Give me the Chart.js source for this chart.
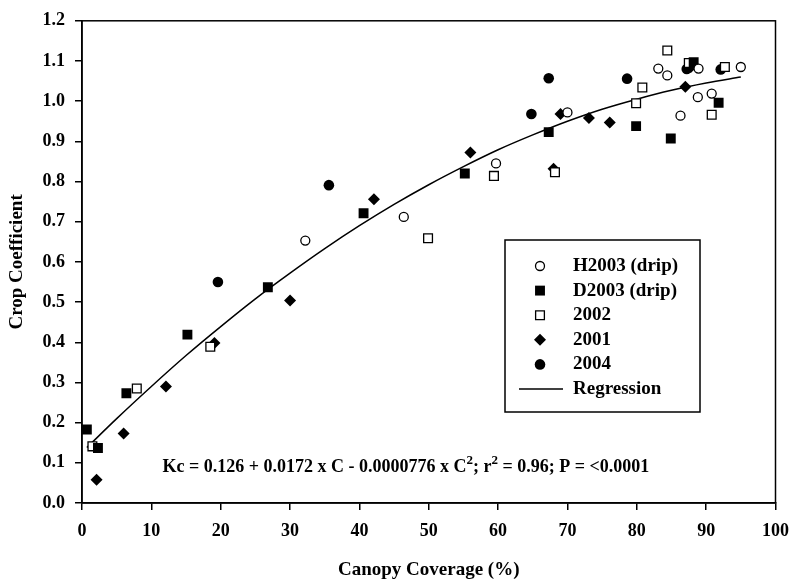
<!DOCTYPE html>
<html>
<head>
<meta charset="utf-8">
<script src="https://cdn.jsdelivr.net/npm/chart.js@4"></script>
<style>
  html, body { margin: 0; padding: 0; background: #fff; }
</style>
</head>
<body>
<canvas id="chart" width="800" height="583"></canvas>
<script>
// values: [canopy coverage %, Kc]
const h2003 = [[32.2, 0.653], [46.4, 0.712], [59.7, 0.845], [70.0, 0.972], [83.1, 1.081], [84.4, 1.064],
  [86.3, 0.964], [88.9, 1.081], [88.8, 1.010], [90.8, 1.019], [95.0, 1.085]];
const d2003 = [[0.7, 0.183], [2.3, 0.137], [6.4, 0.273], [15.2, 0.419], [26.8, 0.537], [40.6, 0.721],
  [55.2, 0.820], [67.3, 0.923], [79.9, 0.938], [84.9, 0.907], [88.2, 1.097], [91.8, 0.996]];
const y2002 = [[1.5, 0.141], [7.9, 0.285], [18.5, 0.389], [49.9, 0.659], [59.4, 0.814], [68.2, 0.823],
  [79.9, 0.995], [80.8, 1.034], [84.4, 1.126], [87.5, 1.095], [90.8, 0.966], [92.7, 1.085]];
const y2001 = [[2.1, 0.058], [6.0, 0.173], [12.1, 0.290], [19.1, 0.398], [30.0, 0.504], [42.1, 0.756],
  [56.0, 0.872], [68.0, 0.832], [69.0, 0.968], [73.1, 0.958], [76.1, 0.947], [87.0, 1.036], [87.8, 1.085]];
const y2004 = [[19.6, 0.550], [35.6, 0.791], [64.8, 0.968], [67.3, 1.057], [78.6, 1.056], [87.2, 1.080], [92.1, 1.079]];
// regression curve as drawn
const regX = [0.7, 5, 10, 15, 20, 25, 30, 35, 40, 45, 50, 55, 60, 65, 70, 75, 80, 85, 90, 95];
const regY = [0.138, 0.210, 0.290, 0.367, 0.439, 0.508, 0.572, 0.633, 0.690, 0.743, 0.792, 0.837, 0.879, 0.916, 0.950, 0.980, 1.005, 1.027, 1.045, 1.060];
const xTicks = [0, 10, 20, 30, 40, 50, 60, 70, 80, 90, 100];
const yTicks = [0, 0.1, 0.2, 0.3, 0.4, 0.5, 0.6, 0.7, 0.8, 0.9, 1.0, 1.1, 1.2];

const pts = arr => arr.map(p => ({ x: p[0], y: p[1] }));
const SERIF = '"Liberation Serif", "Times New Roman", serif';

const datasets = [
  { label: 'H2003 (drip)', data: pts(h2003), pointStyle: 'circle', pointRadius: 4.5, backgroundColor: '#fff', borderColor: '#000', borderWidth: 1.3 },
  { label: 'D2003 (drip)', data: pts(d2003), pointStyle: 'rect', pointRadius: 7, backgroundColor: '#000', borderColor: '#000', borderWidth: 0 },
  { label: '2002', data: pts(y2002), pointStyle: 'rect', pointRadius: 6.2, backgroundColor: '#fff', borderColor: '#000', borderWidth: 1.3 },
  { label: '2001', data: pts(y2001), pointStyle: 'rectRot', pointRadius: 6, backgroundColor: '#000', borderColor: '#000', borderWidth: 0 },
  { label: '2004', data: pts(y2004), pointStyle: 'circle', pointRadius: 5.3, backgroundColor: '#000', borderColor: '#000', borderWidth: 0 },
  { label: 'Regression', type: 'line', data: regX.map((x, i) => ({ x, y: regY[i] })), showLine: true,
    pointRadius: 0, borderColor: '#000', borderWidth: 1.5, cubicInterpolationMode: 'monotone', fill: false },
];

const framePlugin = {
  id: 'frame',
  afterDatasetsDraw(chart) {
    const { ctx, chartArea: a } = chart;
    ctx.save();
    ctx.strokeStyle = '#000';
    ctx.lineWidth = 1.5;
    ctx.strokeRect(a.left, a.top, a.right - a.left, a.bottom - a.top);
    ctx.restore();
  },
};

const legendPlugin = {
  id: 'boxLegend',
  afterDatasetsDraw(chart) {
    const ctx = chart.ctx;
    const box = { left: 505, top: 240, right: 700, bottom: 412 };
    ctx.save();
    ctx.fillStyle = '#fff';
    ctx.fillRect(box.left, box.top, box.right - box.left, box.bottom - box.top);
    ctx.strokeStyle = '#000';
    ctx.lineWidth = 1.5;
    ctx.strokeRect(box.left, box.top, box.right - box.left, box.bottom - box.top);
    ctx.font = 'bold 19px ' + SERIF;
    ctx.textBaseline = 'middle';
    chart.data.datasets.forEach((ds, i) => {
      const y = 266 + i * 24.6;
      if (ds.type === 'line') {
        ctx.beginPath();
        ctx.lineWidth = ds.borderWidth;
        ctx.moveTo(519, y);
        ctx.lineTo(563, y);
        ctx.stroke();
      } else {
        ctx.fillStyle = ds.backgroundColor;
        ctx.strokeStyle = ds.borderColor;
        ctx.lineWidth = ds.borderWidth;
        Chart.helpers.drawPoint(ctx, { pointStyle: ds.pointStyle, radius: ds.pointRadius, borderWidth: ds.borderWidth, rotation: 0 }, 540, y);
      }
      ctx.fillStyle = '#000';
      ctx.fillText(ds.label, 573, y);
    });
    ctx.restore();
  },
};

const eqPlugin = {
  id: 'equation',
  afterDatasetsDraw(chart) {
    const ctx = chart.ctx;
    const xs = chart.scales.x, ys = chart.scales.y;
    const parts = [
      ['Kc = 0.126 + 0.0172 x C - 0.0000776 x C', false], ['2', true], ['; r', false], ['2', true],
      [' = 0.96; P = <0.0001', false],
    ];
    const big = 'bold 18px ' + SERIF, small = 'bold 13px ' + SERIF;
    ctx.save();
    let w = 0;
    parts.forEach(([t, sup]) => { ctx.font = sup ? small : big; w += ctx.measureText(t).width; });
    let x = xs.getPixelForValue(46.7) - w / 2;
    const y = ys.getPixelForValue(0.088);
    ctx.fillStyle = '#000';
    ctx.textBaseline = 'middle';
    parts.forEach(([t, sup]) => {
      ctx.font = sup ? small : big;
      ctx.fillText(t, x, sup ? y - 7 : y);
      x += ctx.measureText(t).width;
    });
    ctx.restore();
  },
};

new Chart(document.getElementById('chart'), {
  type: 'scatter',
  data: { datasets },
  options: {
    responsive: false,
    animation: false,
    layout: { padding: { top: 15, right: 18, left: 0, bottom: 0 } },
    plugins: { legend: { display: false }, tooltip: { enabled: false } },
    scales: {
      x: {
        type: 'linear', min: 0, max: 100,
        afterBuildTicks: axis => { axis.ticks = xTicks.map(v => ({ value: v })); },
        afterFit: axis => { axis.height = 80; },
        grid: { drawOnChartArea: false, tickLength: 7, color: '#000', lineWidth: 1.5 },
        border: { color: '#000', width: 1.5 },
        ticks: { color: '#000', padding: 11, maxRotation: 0, font: { family: SERIF, size: 18, weight: 'bold' } },
        title: { display: true, text: 'Canopy Coverage (%)', color: '#000', padding: { top: 0, bottom: 2 },
          font: { family: SERIF, size: 19, weight: 'bold' } },
      },
      y: {
        type: 'linear', min: 0, max: 1.2,
        afterBuildTicks: axis => { axis.ticks = yTicks.map(v => ({ value: v })); },
        afterFit: axis => { axis.width = 82; },
        grid: { drawOnChartArea: false, tickLength: 7, color: '#000', lineWidth: 1.5 },
        border: { color: '#000', width: 1.5 },
        ticks: { color: '#000', padding: 10, callback: v => v.toFixed(1), font: { family: SERIF, size: 18, weight: 'bold' } },
        title: { display: true, text: 'Crop Coefficient', color: '#000', padding: { top: 6, bottom: 0 },
          font: { family: SERIF, size: 19, weight: 'bold' } },
      },
    },
  },
  plugins: [framePlugin, legendPlugin, eqPlugin],
});
</script>
</body>
</html>
